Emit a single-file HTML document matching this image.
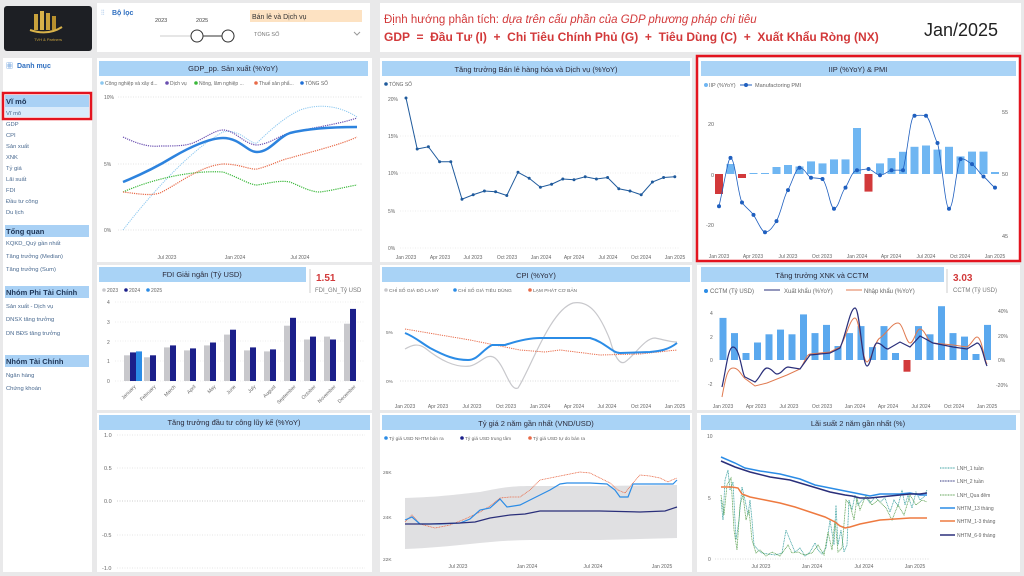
<!DOCTYPE html>
<html><head><meta charset="utf-8"><style>
html,body{margin:0;padding:0;background:#e9e9ea;}
svg{display:block;font-family:"Liberation Sans","Noto Sans CJK SC",sans-serif;}
</style></head><body>
<svg width="1024" height="576" viewBox="0 0 1024 576" xmlns="http://www.w3.org/2000/svg">
<rect width="1024" height="576" fill="#e9e9ea"/>
<!-- logo -->
<rect x="4" y="6" width="88" height="45" rx="3" fill="#1d1f24"/>
<rect x="34" y="14" width="4" height="16" fill="#c9a23c"/><rect x="40" y="11" width="4" height="19" fill="#d8b24a"/><rect x="46" y="13" width="4" height="17" fill="#c9a23c"/><rect x="52" y="16" width="4" height="14" fill="#b8902e"/>
<path d="M30 30 Q48 36 62 27" stroke="#d8b24a" stroke-width="2" fill="none"/>
<text x="48" y="41" font-size="4" fill="#c9a23c" text-anchor="middle">TVH &amp; Partners</text>
<!-- filter panel -->
<rect x="97" y="3" width="273" height="49" fill="#fff"/>
<text x="101" y="15" font-size="7" fill="#3b7fd0">⫶⫶</text>
<text x="112" y="15" font-size="7" font-weight="bold" fill="#2f6fc0">Bộ lọc</text>
<text x="155" y="22" font-size="5.5" fill="#444">2023</text><text x="196" y="22" font-size="5.5" fill="#444">2025</text>
<line x1="160" y1="36" x2="235" y2="36" stroke="#ccc" stroke-width="1"/><line x1="197" y1="36" x2="228" y2="36" stroke="#333" stroke-width="1"/>
<circle cx="197" cy="36" r="6" fill="#fff" stroke="#333"/><circle cx="228" cy="36" r="6" fill="#fff" stroke="#333"/>
<rect x="250" y="10" width="112" height="12" fill="#fde2c2"/>
<text x="252" y="19" font-size="7" fill="#333">Bán lẻ và Dịch vụ</text>
<text x="254" y="36" font-size="5.5" fill="#777">TỔNG SỐ</text>
<path d="M354 32 l3 3 l3 -3" stroke="#999" fill="none"/>
<!-- title panel -->
<rect x="380" y="3" width="641" height="49" fill="#fff"/>
<text x="384" y="23" font-size="11.5" fill="#d2393a">Định hướng phân tích: <tspan font-style="italic">dựa trên cấu phần của GDP phương pháp chi tiêu</tspan></text>
<text x="384" y="41" font-size="12" font-weight="bold" fill="#d2393a" xml:space="preserve">GDP  =  Đầu Tư (I)  +  Chi Tiêu Chính Phủ (G)  +  Tiêu Dùng (C)  +  Xuất Khẩu Ròng (NX)</text>
<text x="924" y="36" font-size="18" fill="#222">Jan/2025</text>
<!-- sidebar -->
<rect x="3" y="58" width="89" height="514" fill="#fff"/>
<text x="6" y="68" font-size="7" fill="#3b7fd0">▦</text><text x="17" y="68" font-size="7" font-weight="bold" fill="#2f6fc0">Danh mục</text>
<rect x="5" y="95" width="84" height="12" fill="#a9d1f5"/><rect x="5" y="107" width="84" height="10" fill="#d9ebfb"/>
<rect x="3" y="93" width="88" height="26" fill="none" stroke="#e3141f" stroke-width="2.5"/>
<text x="6" y="104" font-size="7.5" font-weight="bold" fill="#1d3557">Vĩ mô</text>
<g font-size="5.8" fill="#4a6a90">
<text x="6" y="115">Vĩ mô</text><text x="6" y="126">GDP</text><text x="6" y="137">CPI</text><text x="6" y="148">Sản xuất</text><text x="6" y="159">XNK</text><text x="6" y="170">Tỷ giá</text><text x="6" y="181">Lãi suất</text><text x="6" y="192">FDI</text><text x="6" y="203">Đầu tư công</text><text x="6" y="214">Du lịch</text>
<text x="6" y="245">KQKD_Quý gần nhất</text><text x="6" y="258">Tăng trưởng (Median)</text><text x="6" y="271">Tăng trưởng (Sum)</text>
<text x="6" y="308">Sản xuất - Dịch vụ</text><text x="6" y="321">DNSX tăng trưởng</text><text x="6" y="335">DN BĐS tăng trưởng</text>
<text x="6" y="377">Ngân hàng</text><text x="6" y="390">Chứng khoán</text>
</g>
<rect x="5" y="225" width="84" height="12" fill="#a9d1f5"/><text x="6" y="234" font-size="7.5" font-weight="bold" fill="#1d3557">Tổng quan</text>
<rect x="5" y="286" width="84" height="12" fill="#a9d1f5"/><text x="6" y="295" font-size="7.5" font-weight="bold" fill="#1d3557">Nhóm Phi Tài Chính</text>
<rect x="5" y="355" width="84" height="12" fill="#a9d1f5"/><text x="6" y="364" font-size="7.5" font-weight="bold" fill="#1d3557">Nhóm Tài Chính</text>

<!-- panels -->
<g fill="#fff">
<rect x="97" y="58" width="275" height="204"/><rect x="380" y="58" width="312" height="204"/><rect x="697" y="58" width="323" height="204"/>
<rect x="97" y="265" width="275" height="145"/><rect x="380" y="265" width="312" height="145"/><rect x="697" y="265" width="323" height="145"/>
<rect x="97" y="413" width="275" height="159"/><rect x="380" y="413" width="312" height="159"/><rect x="697" y="413" width="323" height="159"/>
</g>
<g fill="#a9d3f6">
<rect x="99" y="61" width="269" height="15"/><rect x="382" y="61" width="308" height="15"/><rect x="701" y="61" width="315" height="15"/>
<rect x="99" y="267" width="207" height="15"/><rect x="382" y="267" width="308" height="15"/><rect x="701" y="267" width="243" height="15"/>
<rect x="99" y="415" width="271" height="15"/><rect x="382" y="415" width="308" height="15"/><rect x="701" y="415" width="315" height="15"/>
</g>
<g font-size="7.5" fill="#2a2a3a" text-anchor="middle">
<text x="233" y="71">GDP_pp. Sản xuất (%YoY)</text>
<text x="536" y="72">Tăng trưởng Bán lẻ hàng hóa và Dịch vụ (%YoY)</text>
<text x="858" y="72">IIP (%YoY) &amp; PMI</text>
<text x="202" y="277">FDI Giải ngân (Tỷ USD)</text>
<text x="536" y="278">CPI (%YoY)</text>
<text x="822" y="278">Tăng trưởng XNK và CCTM</text>
<text x="234" y="425">Tăng trưởng đầu tư công lũy kế (%YoY)</text>
<text x="536" y="426">Tỷ giá 2 năm gần nhất (VND/USD)</text>
<text x="858" y="426">Lãi suất 2 năm gần nhất (%)</text>
</g>
<rect x="697" y="56" width="323" height="205" fill="none" stroke="#e3141f" stroke-width="2.5"/>

<!-- GDP chart -->
<g font-size="5" fill="#666">
<circle cx="102" cy="83" r="1.8" fill="#8cc8f0"/><text x="105" y="85">Công nghiệp và xây d...</text>
<circle cx="167" cy="83" r="1.8" fill="#6a4fb0"/><text x="170" y="85">Dịch vụ</text>
<circle cx="196" cy="83" r="1.8" fill="#3ab83a"/><text x="199" y="85">Nông, lâm nghiệp ...</text>
<circle cx="256" cy="83" r="1.8" fill="#e86a48"/><text x="259" y="85">Thuế sản phẩ...</text>
<circle cx="302" cy="83" r="1.8" fill="#1f6fd6"/><text x="305" y="85">TỔNG SỐ</text>
<text x="104" y="99">10%</text><text x="104" y="166">5%</text><text x="104" y="232">0%</text>
<text x="167" y="259" text-anchor="middle">Jul 2023</text><text x="235" y="259" text-anchor="middle">Jan 2024</text><text x="300" y="259" text-anchor="middle">Jul 2024</text>
</g>
<g stroke="#e4e4e4" stroke-dasharray="1,1.5"><line x1="118" y1="97" x2="362" y2="97"/><line x1="118" y1="164" x2="362" y2="164"/><line x1="118" y1="230" x2="362" y2="230"/></g>
<g fill="none" stroke-linejoin="round">
<path d="M123 230 C150 195 190 150 223 132 C240 128 250 145 257 143 C270 130 285 117 300 110 C320 103 340 106 357 117" stroke="#8cc8f0" stroke-width="1" stroke-dasharray="1.2,1"/>
<path d="M123 192 C150 180 190 170 223 172 C240 178 250 185 257 185 C270 183 280 180 290 182 C300 186 310 192 320 192 C335 190 345 187 357 185" stroke="#3ab83a" stroke-width="1.2" stroke-dasharray="1.2,1"/>
<path d="M123 192 C140 194 150 196 160 193 C180 183 200 166 223 164 C240 164 250 170 257 169 C270 166 280 160 290 158 C310 152 340 145 357 137" stroke="#e86a48" stroke-width="1.2" stroke-dasharray="1.2,1"/>
<path d="M123 137 C140 145 150 147 160 146 C175 146 185 146 193 143 C205 138 215 130 223 130 C235 130 245 145 257 145 C270 144 280 135 290 133 C310 128 340 124 357 118" stroke="#6a4fb0" stroke-width="1.2" stroke-dasharray="1.2,1"/>
<path d="M123 182 C140 175 160 165 173 157 C190 147 210 138 223 138 C240 138 247 152 257 152 C270 152 278 137 290 133 C310 128 340 127 357 127" stroke="#2d83de" stroke-width="2.5"/>
</g>

<!-- Retail chart -->
<g font-size="5" fill="#666">
<circle cx="386" cy="84" r="1.8" fill="#1f5a9c"/><text x="389" y="86">TỔNG SỐ</text>
<text x="388" y="101">20%</text><text x="388" y="138">15%</text><text x="388" y="175">10%</text><text x="388" y="213">5%</text><text x="388" y="250">0%</text>
<g text-anchor="middle"><text x="406" y="259">Jan 2023</text><text x="440" y="259">Apr 2023</text><text x="473" y="259">Jul 2023</text><text x="507" y="259">Oct 2023</text><text x="541" y="259">Jan 2024</text><text x="574" y="259">Apr 2024</text><text x="608" y="259">Jul 2024</text><text x="641" y="259">Oct 2024</text><text x="675" y="259">Jan 2025</text></g>
</g>
<g stroke="#eee" stroke-dasharray="1,1.5"><line x1="400" y1="211" x2="680" y2="211"/><line x1="400" y1="173" x2="680" y2="173"/><line x1="400" y1="136" x2="680" y2="136"/><line x1="400" y1="248" x2="680" y2="248"/></g>
<polyline fill="none" stroke="#1f5a9c" stroke-width="1" points="406,98 417.2,149 428.4,146.75 439.6,161.75 450.8,161.75 462,199.25 473.2,194.75 484.4,191 495.6,191.75 506.8,195.5 518,172.25 529.2,178.25 540.4,187.25 551.6,184.25 562.8,179 574,179.75 585.2,176.75 596.4,179 607.6,177.5 618.8,188.75 630,191 641.2,194.75 652.4,182 663.6,177.5 674.8,176.75"/>
<g fill="#1f5a9c"><circle cx="406" cy="98" r="1.5"/><circle cx="417.2" cy="149" r="1.5"/><circle cx="428.4" cy="146.75" r="1.5"/><circle cx="439.6" cy="161.75" r="1.5"/><circle cx="450.8" cy="161.75" r="1.5"/><circle cx="462" cy="199.25" r="1.5"/><circle cx="473.2" cy="194.75" r="1.5"/><circle cx="484.4" cy="191" r="1.5"/><circle cx="495.6" cy="191.75" r="1.5"/><circle cx="506.8" cy="195.5" r="1.5"/><circle cx="518" cy="172.25" r="1.5"/><circle cx="529.2" cy="178.25" r="1.5"/><circle cx="540.4" cy="187.25" r="1.5"/><circle cx="551.6" cy="184.25" r="1.5"/><circle cx="562.8" cy="179" r="1.5"/><circle cx="574" cy="179.75" r="1.5"/><circle cx="585.2" cy="176.75" r="1.5"/><circle cx="596.4" cy="179" r="1.5"/><circle cx="607.6" cy="177.5" r="1.5"/><circle cx="618.8" cy="188.75" r="1.5"/><circle cx="630" cy="191" r="1.5"/><circle cx="641.2" cy="194.75" r="1.5"/><circle cx="652.4" cy="182" r="1.5"/><circle cx="663.6" cy="177.5" r="1.5"/><circle cx="674.8" cy="176.75" r="1.5"/></g>

<!-- IIP chart -->
<g font-size="5.5" fill="#666">
<circle cx="706" cy="85" r="2" fill="#6fb6f2"/><text x="709" y="87">IIP (%YoY)</text>
<line x1="740" y1="85" x2="752" y2="85" stroke="#1f5fbf"/><circle cx="746" cy="85" r="2" fill="#1f5fbf"/><text x="755" y="87">Manufactoring PMI</text>
<text x="708" y="126">20</text><text x="711" y="177">0</text><text x="706" y="227">-20</text>
<text x="1002" y="114">55</text><text x="1002" y="176">50</text><text x="1002" y="238">45</text>
</g>
<g font-size="5" fill="#666" text-anchor="middle"><text x="719" y="258">Jan 2023</text><text x="753" y="258">Apr 2023</text><text x="788" y="258">Jul 2023</text><text x="822" y="258">Oct 2023</text><text x="857" y="258">Jan 2024</text><text x="891" y="258">Apr 2024</text><text x="926" y="258">Jul 2024</text><text x="960" y="258">Oct 2024</text><text x="995" y="258">Jan 2025</text></g>
<g fill="#6fb6f2">
<rect x="726.5" y="164" width="8" height="10"/><rect x="749.5" y="173" width="8" height="1"/><rect x="761" y="173" width="8" height="1"/><rect x="772.5" y="167" width="8" height="7"/><rect x="784" y="165" width="8" height="9"/><rect x="795.5" y="166.5" width="8" height="7.5"/><rect x="807" y="161.4" width="8" height="12.6"/><rect x="818.5" y="163.4" width="8" height="10.6"/><rect x="830" y="159.4" width="8" height="14.6"/><rect x="841.5" y="159.4" width="8" height="14.6"/><rect x="853" y="128" width="8" height="46"/><rect x="876" y="163.4" width="8" height="10.6"/><rect x="887.5" y="158.1" width="8" height="15.9"/><rect x="899" y="151.8" width="8" height="22.2"/><rect x="910.5" y="146.8" width="8" height="27.2"/><rect x="922" y="145.5" width="8" height="28.5"/><rect x="933.5" y="149.6" width="8" height="24.4"/><rect x="945" y="146.8" width="8" height="27.2"/><rect x="956.5" y="156.4" width="8" height="17.6"/><rect x="968" y="151.6" width="8" height="22.4"/><rect x="979.5" y="151.6" width="8" height="22.4"/><rect x="991" y="172" width="8" height="2"/>
</g>
<g fill="#d2393a"><rect x="715" y="174" width="8" height="20"/><rect x="738" y="174" width="8" height="4"/><rect x="864.5" y="174" width="8" height="17.6"/></g>
<path fill="none" stroke="#1f5fbf" stroke-width="0.8" d="M719 206.2 C725 180 728 158 730.5 157.9 C735 158 738 195 742 202.5 C746 208 750 210 753.5 214.9 C758 222 762 232 765 232.3 C770 232 774 225 776.5 221.1 C782 210 784 195 788 190.1 C793 180 796 168 799.5 167.8 C805 168 807 176 811 177.7 C816 178 818 178 822.5 179 C828 185 830 208 834 208.7 C839 208 841 192 845.5 187.6 C850 180 852 171 857 170.3 C862 170 864 169 868.5 169 C873 170 876 175 880 175.2 C885 175 887 171 891.5 170.3 C896 170 899 170 903 170.3 C908 150 910 116 914.5 115.7 C920 115 922 115 926 115.7 C931 120 934 138 937.5 143 C942 160 945 208 949 208.7 C954 208 956 166 960.5 159.1 C965 158 968 162 972 164.1 C977 168 980 174 983.5 176.5 C988 180 991 185 995 187.6"/>
<g fill="#1f5fbf"><circle cx="719" cy="206.2" r="2"/><circle cx="730.5" cy="157.9" r="2"/><circle cx="742" cy="202.5" r="2"/><circle cx="753.5" cy="214.9" r="2"/><circle cx="765" cy="232.3" r="2"/><circle cx="776.5" cy="221.1" r="2"/><circle cx="788" cy="190.1" r="2"/><circle cx="799.5" cy="167.8" r="2"/><circle cx="811" cy="177.7" r="2"/><circle cx="822.5" cy="179" r="2"/><circle cx="834" cy="208.7" r="2"/><circle cx="845.5" cy="187.6" r="2"/><circle cx="857" cy="170.3" r="2"/><circle cx="868.5" cy="169" r="2"/><circle cx="880" cy="175.2" r="2"/><circle cx="891.5" cy="170.3" r="2"/><circle cx="903" cy="170.3" r="2"/><circle cx="914.5" cy="115.7" r="2"/><circle cx="926" cy="115.7" r="2"/><circle cx="937.5" cy="143" r="2"/><circle cx="949" cy="208.7" r="2"/><circle cx="960.5" cy="159.1" r="2"/><circle cx="972" cy="164.1" r="2"/><circle cx="983.5" cy="176.5" r="2"/><circle cx="995" cy="187.6" r="2"/></g>

<!-- FDI -->
<text x="316" y="281" font-size="10" font-weight="bold" fill="#d2393a">1.51</text>
<line x1="310" y1="269" x2="310" y2="293" stroke="#ccc"/>
<text x="315" y="292" font-size="6" fill="#777">FDI_GN_Tỷ USD</text>
<g font-size="5" fill="#666">
<circle cx="104" cy="290" r="1.8" fill="#c8c8cc"/><text x="107" y="292">2023</text>
<circle cx="126" cy="290" r="1.8" fill="#1b1f8a"/><text x="129" y="292">2024</text>
<circle cx="148" cy="290" r="1.8" fill="#2b8ce6"/><text x="151" y="292">2025</text>
<text x="107" y="304">4</text><text x="107" y="324">3</text><text x="107" y="344">2</text><text x="107" y="363">1</text><text x="107" y="383">0</text>
</g>
<g stroke="#eee" stroke-dasharray="1,1.5"><line x1="115" y1="302" x2="365" y2="302"/><line x1="115" y1="322" x2="365" y2="322"/><line x1="115" y1="341" x2="365" y2="341"/><line x1="115" y1="361" x2="365" y2="361"/><line x1="115" y1="381" x2="365" y2="381"/></g>
<g fill="#c8c8cc">
<rect x="124" y="355.3" width="6" height="25.7"/><rect x="144" y="357.3" width="6" height="23.7"/><rect x="164" y="347.4" width="6" height="33.6"/><rect x="184" y="350.4" width="6" height="30.6"/><rect x="204" y="345.4" width="6" height="35.6"/><rect x="224" y="334.6" width="6" height="46.4"/><rect x="244" y="350.4" width="6" height="30.6"/><rect x="264" y="351.4" width="6" height="29.6"/><rect x="284" y="325.7" width="6" height="55.3"/><rect x="304" y="339.5" width="6" height="41.5"/><rect x="324" y="336.6" width="6" height="44.4"/><rect x="344" y="323.7" width="6" height="57.3"/>
</g>
<g fill="#1b1f8a">
<rect x="130" y="352.4" width="6" height="28.6"/><rect x="150" y="355.3" width="6" height="25.7"/><rect x="170" y="345.4" width="6" height="35.6"/><rect x="190" y="348.4" width="6" height="32.6"/><rect x="210" y="342.5" width="6" height="38.5"/><rect x="230" y="329.7" width="6" height="51.3"/><rect x="250" y="347.4" width="6" height="33.6"/><rect x="270" y="349.4" width="6" height="31.6"/><rect x="290" y="317.8" width="6" height="63.2"/><rect x="310" y="336.6" width="6" height="44.4"/><rect x="330" y="339.5" width="6" height="41.5"/><rect x="350" y="308.9" width="6" height="72.1"/>
</g>
<rect x="136" y="351.4" width="6" height="29.6" fill="#2b8ce6"/>
<g font-size="5" fill="#666" text-anchor="end">
<text transform="translate(136,387) rotate(-45)">January</text><text transform="translate(156,387) rotate(-45)">February</text><text transform="translate(176,387) rotate(-45)">March</text><text transform="translate(196,387) rotate(-45)">April</text><text transform="translate(216,387) rotate(-45)">May</text><text transform="translate(236,387) rotate(-45)">June</text><text transform="translate(256,387) rotate(-45)">July</text><text transform="translate(276,387) rotate(-45)">August</text><text transform="translate(296,387) rotate(-45)">September</text><text transform="translate(316,387) rotate(-45)">October</text><text transform="translate(336,387) rotate(-45)">November</text><text transform="translate(356,387) rotate(-45)">December</text>
</g>

<!-- CPI -->
<g font-size="4.8" fill="#666">
<circle cx="386" cy="290" r="1.8" fill="#c8c8cc"/><text x="389" y="292">CHỈ SỐ GIÁ ĐÔ LA MỸ</text>
<circle cx="455" cy="290" r="1.8" fill="#2b8ce6"/><text x="458" y="292">CHỈ SỐ GIÁ TIÊU DÙNG</text>
<circle cx="530" cy="290" r="1.8" fill="#e86a48"/><text x="533" y="292">LẠM PHÁT CƠ BẢN</text>
<text x="386" y="334">5%</text><text x="386" y="383">0%</text>
</g>
<g font-size="5" fill="#666" text-anchor="middle"><text x="405" y="408">Jan 2023</text><text x="438" y="408">Apr 2023</text><text x="472" y="408">Jul 2023</text><text x="506" y="408">Oct 2023</text><text x="540" y="408">Jan 2024</text><text x="574" y="408">Apr 2024</text><text x="607" y="408">Jul 2024</text><text x="641" y="408">Oct 2024</text><text x="675" y="408">Jan 2025</text></g>
<line x1="400" y1="381" x2="680" y2="381" stroke="#ddd" stroke-dasharray="1,1.5"/>
<path fill="none" stroke="#c8c8cc" stroke-width="1.2" d="M405 349 C412 345 418 343 425 348 C440 360 455 368 470 366 C480 364 487 352 495 358 C505 366 510 392 518 388 C530 370 550 310 573 303 C590 300 600 315 610 340 C615 358 620 365 625 362 C635 355 645 338 655 338 C665 340 670 342 677 342"/>
<path fill="none" stroke="#e86a48" stroke-width="1" stroke-dasharray="1.2,1" d="M405 329 L470 340 L520 350 L545 352 L560 350 L600 355 L640 354 L677 350"/>
<path fill="none" stroke="#2b8ce6" stroke-width="2" d="M405 333 C415 337 420 342 430 348 C445 356 455 360 468 360 C478 360 482 350 492 345 L505 345 C520 340 530 338 540 338 L590 338 C605 342 612 353 620 353 L650 352 C660 351 668 350 677 343"/>

<!-- XNK -->
<text x="953" y="281" font-size="10" font-weight="bold" fill="#d2393a">3.03</text>
<line x1="947" y1="269" x2="947" y2="293" stroke="#ccc"/>
<text x="953" y="292" font-size="6" fill="#777">CCTM (Tỷ USD)</text>
<g font-size="6" fill="#666">
<circle cx="706" cy="291" r="2" fill="#2b8ce6"/><text x="710" y="293">CCTM (Tỷ USD)</text>
<line x1="764" y1="290" x2="780" y2="290" stroke="#2a2f7a"/><text x="784" y="293">Xuất khẩu (%YoY)</text>
<line x1="846" y1="290" x2="862" y2="290" stroke="#e07a50"/><text x="864" y="293">Nhập khẩu (%YoY)</text>
</g>
<g font-size="5" fill="#666"><text x="710" y="315">4</text><text x="710" y="339">2</text><text x="710" y="362">0</text><text x="708" y="386">-2</text>
<text x="998" y="313">40%</text><text x="998" y="338">20%</text><text x="998" y="362">0%</text><text x="996" y="387">-20%</text></g>
<g font-size="5" fill="#666" text-anchor="middle"><text x="723" y="408">Jan 2023</text><text x="756" y="408">Apr 2023</text><text x="789" y="408">Jul 2023</text><text x="822" y="408">Oct 2023</text><text x="855" y="408">Jan 2024</text><text x="888" y="408">Apr 2024</text><text x="921" y="408">Jul 2024</text><text x="954" y="408">Oct 2024</text><text x="987" y="408">Jan 2025</text></g>
<g fill="#5aa8ee">
<rect x="719.5" y="317.9" width="7" height="42.1"/><rect x="731" y="333.1" width="7" height="26.9"/><rect x="742.5" y="353" width="7" height="7"/><rect x="754" y="342.5" width="7" height="17.5"/><rect x="765.5" y="334.3" width="7" height="25.7"/><rect x="777" y="329.6" width="7" height="30.4"/><rect x="788.5" y="334.3" width="7" height="25.7"/><rect x="800" y="314.4" width="7" height="45.6"/><rect x="811.5" y="333.1" width="7" height="26.9"/><rect x="823" y="324.9" width="7" height="35.1"/><rect x="834.5" y="346" width="7" height="14"/><rect x="846" y="333.1" width="7" height="26.9"/><rect x="857.5" y="326.1" width="7" height="33.9"/><rect x="869" y="347.1" width="7" height="12.9"/><rect x="880.5" y="326.1" width="7" height="33.9"/><rect x="892" y="353" width="7" height="7"/><rect x="915" y="326.1" width="7" height="33.9"/><rect x="926.5" y="334.3" width="7" height="25.7"/><rect x="938" y="306.2" width="7" height="53.8"/><rect x="949.5" y="333.1" width="7" height="26.9"/><rect x="961" y="336.6" width="7" height="23.4"/><rect x="972.5" y="354" width="7" height="6"/><rect x="984" y="324.9" width="7" height="35.1"/>
</g>
<rect x="903.5" y="360" width="7" height="11.7" fill="#d2393a"/>
<path fill="none" stroke="#e07a50" stroke-width="1" d="M722 397 C726 375 728 368 733 368 C740 368 742 378 747 380 L755 386 L767 383 L787 375 L800 369 C805 362 806 355 810 354 L830 352 L840 347 C846 338 850 318 855 318 C860 318 862 362 867 362 C872 360 875 340 880 338 C888 332 892 323 898 323 C903 323 906 343 910 343 C914 343 916 329 920 329 C925 329 928 343 933 343 L953 345 L967 347 C972 344 974 337 977 337 C982 337 984 360 987 364"/>
<path fill="none" stroke="#2a2f7a" stroke-width="1.2" d="M722 387 C726 370 728 347 733 347 C740 347 742 375 745 377 L755 382 C760 378 763 368 767 368 C772 368 774 374 777 374 C782 374 784 367 788 367 L800 369 L810 355 L830 353 L840 348 C846 335 850 308 855 308 C860 308 862 366 867 366 C871 366 873 343 877 343 C882 343 884 349 888 349 L900 342 L910 347 L920 336 L933 343 L953 347 L967 349 L977 343 C982 343 984 360 987 366"/>

<!-- Dau tu cong -->
<g font-size="5.5" fill="#666"><text x="104" y="437">1.0</text><text x="104" y="470">0.5</text><text x="104" y="503">0.0</text><text x="102" y="537">-0.5</text><text x="102" y="570">-1.0</text></g>
<g stroke="#e6e6e6" stroke-dasharray="1,1.5"><line x1="117" y1="435" x2="365" y2="435"/><line x1="117" y1="468" x2="365" y2="468"/><line x1="117" y1="501" x2="365" y2="501" stroke="#ccc"/><line x1="117" y1="535" x2="365" y2="535"/><line x1="117" y1="568" x2="365" y2="568"/></g>

<!-- Ty gia -->
<g font-size="4.8" fill="#666">
<circle cx="386" cy="438" r="1.8" fill="#2b8ce6"/><text x="389" y="440">Tỷ giá USD NHTM bán ra</text>
<circle cx="462" cy="438" r="1.8" fill="#1b1f8a"/><text x="465" y="440">Tỷ giá USD trung tâm</text>
<circle cx="530" cy="438" r="1.8" fill="#e86a48"/><text x="533" y="440">Tỷ giá USD tự do bán ra</text>
<text x="383" y="474">26K</text><text x="383" y="519">24K</text><text x="383" y="561">22K</text>
</g>
<g font-size="5" fill="#666" text-anchor="middle"><text x="458" y="568">Jul 2023</text><text x="527" y="568">Jan 2024</text><text x="593" y="568">Jul 2024</text><text x="662" y="568">Jan 2025</text></g>
<path fill="#e0e0e2" d="M405 498 C440 497 460 494 480 492 C500 488 510 486 530 486 L600 486 L677 485 L677 538 L600 540 L530 540 C510 540 490 542 470 544 C450 546 430 548 405 549 Z"/>
<polyline fill="none" stroke="#e86a48" stroke-width="0.8" stroke-dasharray="1,0.6" points="405,522 412,515 420,524 435,528 450,525 465,519 480,512 490,506 500,498 510,497 520,497 530,490 540,480 550,478 560,476 570,474 580,472 590,473 600,478 610,483 618,490 625,493 632,484 640,475 650,476 660,478 668,482 672,480 677,478"/>
<polyline fill="none" stroke="#2b8ce6" stroke-width="1.2" points="405,520 412,517 420,524 440,524 460,523 470,519 480,510 490,508 500,499 507,507 520,505 530,500 540,495 550,490 560,484 567,483 590,483 607,484 615,490 620,497 628,497 633,484 650,484 665,484 673,484 677,480"/>
<polyline fill="none" stroke="#2a2f7a" stroke-width="1.2" points="405,524 430,524 460,523 475,522 490,518 510,515 525,514 540,511 560,511 600,511 640,512 665,511 677,507"/>

<!-- Lai suat -->
<g font-size="5" fill="#666"><text x="707" y="438">10</text><text x="708" y="500">5</text><text x="708" y="561">0</text></g>
<g font-size="5" fill="#666" text-anchor="middle"><text x="761" y="568">Jul 2023</text><text x="812" y="568">Jan 2024</text><text x="864" y="568">Jul 2024</text><text x="915" y="568">Jan 2025</text></g>
<line x1="715" y1="559" x2="930" y2="559" stroke="#ddd" stroke-dasharray="1,1.5"/>
<polyline fill="none" stroke="#3aa0a0" stroke-width="0.8" stroke-dasharray="1,0.6" points="721,500 723,520 725,480 728,470 730,490 733,482 736,540 739,520 742,487 745,500 748,515 750,500 752,520 754,545 758,550 762,553 768,554 775,555 782,553 786,530 790,540 795,552 800,548 805,556 810,552 815,543 818,550 822,554 826,548 830,520 834,545 836,505 838,545 841,530 844,552 847,545 849,500 852,510 855,495 858,505 862,500 866,498 870,503 875,497 880,502 885,498 890,512 894,500 898,506 902,490 905,505 908,495 912,508 916,492 920,500 924,497 927,490"/>
<polyline fill="none" stroke="#5aa050" stroke-width="0.8" stroke-dasharray="1,0.6" points="721,495 724,515 727,485 731,478 734,530 737,550 740,505 743,495 746,520 749,510 752,540 756,553 760,550 766,556 772,552 780,556 788,545 792,553 798,552 804,555 812,553 818,545 824,555 828,532 832,550 835,520 838,552 842,548 846,500 850,505 854,520 857,498 860,510 866,495 872,505 878,500 886,508 892,520 898,505 904,515 910,495 916,505 922,500 927,502"/>
<polyline fill="none" stroke="#2b8ce6" stroke-width="1.5" points="721,457 735,463 745,468 760,471 780,474 800,479 815,485 830,488 845,491 860,494 870,496 880,494 890,494 900,494 910,493 920,495 927,495"/>
<polyline fill="none" stroke="#2a2f7a" stroke-width="1.5" points="721,461 735,467 750,472 770,477 790,480 810,486 830,492 845,495 852,496 860,498 870,498 880,497 890,496 900,495 910,494 920,494 927,493"/>
<polyline fill="none" stroke="#ee7a40" stroke-width="1.5" points="721,487 732,487 738,488 742,494 750,497 765,500 780,503 795,507 810,512 825,517 835,522 840,526 845,528 850,527 860,524 870,522 880,520 895,519 910,518 927,518"/>
<g font-size="5" fill="#666">
<line x1="940" y1="468" x2="955" y2="468" stroke="#3aa0a0" stroke-dasharray="1,0.6"/><text x="957" y="470">LNH_1 tuần</text>
<line x1="940" y1="481" x2="955" y2="481" stroke="#2a2f7a" stroke-dasharray="1,0.6"/><text x="957" y="483">LNH_2 tuần</text>
<line x1="940" y1="495" x2="955" y2="495" stroke="#5aa050" stroke-dasharray="1,0.6"/><text x="957" y="497">LNH_Qua đêm</text>
<line x1="940" y1="508" x2="955" y2="508" stroke="#2b8ce6" stroke-width="1.5"/><text x="957" y="510">NHTM_13 tháng</text>
<line x1="940" y1="521" x2="955" y2="521" stroke="#ee7a40" stroke-width="1.5"/><text x="957" y="523">NHTM_1-3 tháng</text>
<line x1="940" y1="535" x2="955" y2="535" stroke="#2a2f7a" stroke-width="1.5"/><text x="957" y="537">NHTM_6-9 tháng</text>
</g>
</svg>
</body></html>
